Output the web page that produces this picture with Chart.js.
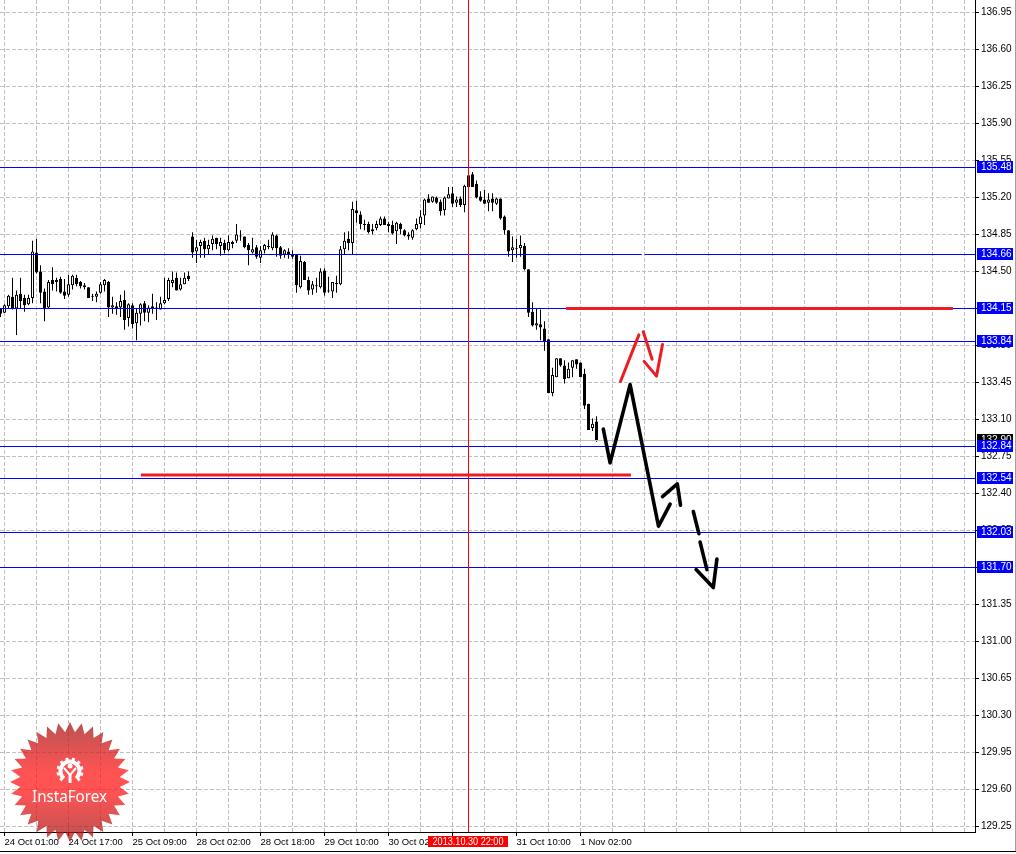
<!DOCTYPE html>
<html>
<head>
<meta charset="utf-8">
<title>EUR/JPY H1</title>
<script src="https://cdn.jsdelivr.net/npm/chart.js@4/dist/chart.umd.min.js"></script>
<style>
    html, body { margin: 0; padding: 0; background: #fff; overflow: hidden; }
    canvas { display: block; }
</style>
</head>
<body>
<canvas id="chart" width="1016" height="854"></canvas>
<script>
    // hourly candles (first bar is cut by the left edge)
    var opens = [134.15,134.11,134.17,134.26,134.15,134.29,134.25,134.19,134.25,134.68,134.50,134.31,134.16,134.42,134.40,134.43,134.31,134.28,134.37,134.44,134.40,134.37,134.35,134.27,134.26,134.30,134.37,134.40,134.16,134.17,134.16,134.23,134.06,134.18,134.01,134.10,134.20,134.11,134.17,134.16,134.14,134.20,134.24,134.39,134.44,134.33,134.38,134.46,134.83,134.69,134.74,134.79,134.71,134.76,134.82,134.74,134.77,134.70,134.76,134.79,134.84,134.83,134.75,134.68,134.73,134.63,134.70,134.74,134.72,134.84,134.73,134.66,134.69,134.66,134.66,134.35,134.59,134.42,134.33,134.36,134.35,134.51,134.32,134.31,134.38,134.38,134.71,134.81,134.77,135.08,135.04,134.95,134.95,134.88,134.91,134.94,135.00,134.95,134.94,134.88,134.95,134.89,134.85,134.82,134.90,134.95,135.03,135.19,135.16,135.20,135.16,135.08,135.19,135.24,135.15,135.19,135.13,135.41,135.42,135.33,135.21,135.18,135.15,135.19,135.14,135.19,135.02,134.89,134.70,134.71,134.72,134.74,134.52,134.12,133.99,134.00,133.96,133.86,133.35,133.50,133.68,133.61,133.49,133.59,133.67,133.64,133.53,133.25,133.02,133.08];
    var highs = [134.15,134.19,134.28,134.44,134.32,134.44,134.28,134.28,134.79,134.81,134.56,134.34,134.42,134.54,134.44,134.45,134.43,134.47,134.47,134.47,134.41,134.39,134.35,134.29,134.31,134.40,134.43,134.41,134.26,134.21,134.28,134.32,134.20,134.20,134.15,134.20,134.22,134.18,134.29,134.21,134.26,134.44,134.44,134.50,134.49,134.44,134.49,134.50,134.87,134.80,134.80,134.82,134.80,134.84,134.82,134.82,134.80,134.84,134.79,134.95,134.89,134.83,134.77,134.82,134.75,134.74,134.76,134.80,134.87,134.85,134.74,134.71,134.72,134.70,134.66,134.65,134.60,134.45,134.41,134.44,134.53,134.53,134.45,134.40,134.46,134.74,134.87,134.88,135.16,135.17,135.07,134.99,134.97,134.95,134.98,135.02,135.02,134.97,134.98,134.97,134.96,134.90,134.87,134.90,135.00,135.08,135.19,135.23,135.21,135.21,135.18,135.21,135.30,135.30,135.21,135.21,135.32,135.42,135.44,135.36,135.26,135.27,135.24,135.24,135.20,135.19,135.03,134.89,134.83,134.81,134.84,134.77,134.52,134.21,134.15,134.14,134.03,133.86,133.59,133.68,133.68,133.66,133.64,133.66,133.67,133.64,133.58,133.25,133.11,133.13];
    var lows = [134.07,134.11,134.15,134.14,133.90,134.15,134.12,134.18,134.20,134.48,134.20,134.03,134.15,134.32,134.31,134.29,134.24,134.26,134.33,134.36,134.34,134.33,134.25,134.22,134.21,134.29,134.31,134.07,134.10,134.09,134.07,133.95,133.98,133.96,133.85,133.99,134.03,134.02,134.10,134.04,134.14,134.19,134.22,134.35,134.32,134.32,134.38,134.41,134.63,134.58,134.63,134.63,134.66,134.70,134.71,134.65,134.67,134.69,134.72,134.77,134.79,134.72,134.56,134.67,134.62,134.58,134.67,134.71,134.70,134.64,134.62,134.63,134.62,134.62,134.30,134.34,134.42,134.28,134.28,134.30,134.34,134.27,134.30,134.25,134.30,134.37,134.66,134.70,134.66,134.96,134.90,134.89,134.86,134.85,134.89,134.93,134.94,134.87,134.85,134.76,134.85,134.83,134.80,134.80,134.89,134.91,134.94,135.15,135.15,135.14,135.03,135.03,135.19,135.11,135.11,135.11,135.06,135.30,135.30,135.19,135.16,135.14,135.07,135.07,135.13,134.99,134.85,134.64,134.59,134.63,134.64,134.51,134.07,133.98,133.95,133.85,133.75,133.35,133.32,133.50,133.60,133.44,133.49,133.50,133.58,133.50,133.20,133.00,132.99,132.89];
    var closes = [134.10,134.18,134.27,134.15,134.28,134.22,134.18,134.25,134.69,134.49,134.30,134.15,134.40,134.38,134.42,134.30,134.27,134.38,134.46,134.38,134.36,134.35,134.25,134.26,134.29,134.38,134.42,134.16,134.18,134.15,134.22,134.04,134.19,134.00,134.11,134.19,134.11,134.16,134.15,134.15,134.20,134.23,134.42,134.42,134.32,134.38,134.44,134.43,134.68,134.73,134.78,134.71,134.75,134.81,134.76,134.78,134.70,134.78,134.78,134.85,134.83,134.73,134.70,134.71,134.64,134.70,134.75,134.73,134.85,134.72,134.65,134.70,134.66,134.64,134.37,134.60,134.42,134.32,134.38,134.37,134.50,134.30,134.31,134.40,134.39,134.71,134.79,134.77,135.09,135.05,134.95,134.94,134.87,134.90,134.95,135.00,134.94,134.93,134.86,134.96,134.90,134.84,134.83,134.89,134.95,135.02,135.18,135.15,135.21,135.15,135.07,135.20,135.23,135.14,135.18,135.13,135.31,135.30,135.30,135.20,135.17,135.14,135.18,135.15,135.19,135.00,134.89,134.69,134.73,134.72,134.75,134.52,134.11,133.99,134.01,133.97,133.84,133.35,133.52,133.68,133.61,133.48,133.58,133.66,133.62,133.50,133.23,133.00,133.06,132.90];

    var priceTicks = [136.95,136.60,136.25,135.90,135.55,135.20,134.85,134.50,134.15,133.80,133.45,133.10,132.75,132.40,132.05,131.70,131.35,131.00,130.65,130.30,129.95,129.60,129.25];
    var gridBars = [1,9,17,25,33,41,49,57,65,73,81,89,97,105,113,121,129,137,145,153,161,169,177,185,193,201,209,217,225,233,241];
    var timeLabels = ['24 Oct 01:00','24 Oct 17:00','25 Oct 09:00','28 Oct 02:00','28 Oct 18:00','29 Oct 10:00','30 Oct 02:00','30 Oct 18:00','31 Oct 10:00','1 Nov 02:00'];

    var levels = [135.48,134.66,134.15,133.84,132.54,132.03,131.70,132.84];
    var bidPrice = 132.90;
    var cursorBar = 117;
    var cursorLabel = '2013.10.30 22:00';

    // hand drawn lines on the picture, x in bars and y in price
    var blackLines = [
        { x: [150.7,152.4,157.4,164.5,167.4], y: [133.01,132.69,133.43,132.09,132.30] },
        { x: [165.5,169.2,170.0], y: [132.37,132.49,132.29] },
        { x: [173.2,174.6], y: [132.23,132.02] },
        { x: [174.9,176.6], y: [131.94,131.68] },
        { x: [173.9,178.2,179.1], y: [131.68,131.51,131.78] }
    ];
    var redLines = [
        { x: [155.0,159.6], y: [133.46,133.90] },
        { x: [160.7,162.9], y: [133.93,133.67] },
        { x: [160.9,164.0,165.5], y: [133.65,133.51,133.81] }
    ];
    var redBars = [
        { x: [141.4,238.1], y: [134.15,134.15] },
        { x: [35.1,157.6], y: [132.575,132.575] }
    ];

    var FONT = '10px "Liberation Sans", Arial, sans-serif';
    var LEVEL_BLUE = '#0000ff';
    var DRAW_RED = '#ed1c24';

    function candleData(a, b) {
        return a.map(function (v, i) { return { x: i, y: [v, b[i]] }; });
    }

    function polyline(line, color, width, cap) {
        return {
            type: 'line',
            data: line.x.map(function (v, i) { return { x: v, y: line.y[i] }; }),
            borderColor: color,
            borderWidth: width,
            pointRadius: 0,
            tension: 0,
            borderCapStyle: cap,
            borderJoinStyle: 'round',
            order: 1
        };
    }

    function noPadding(scale) {
        scale.paddingLeft = scale.paddingRight = scale.paddingTop = scale.paddingBottom = 0;
    }

    var datasets = [
        {
            type: 'bar', label: 'wick', data: candleData(lows, highs),
            backgroundColor: '#000', borderWidth: 0, barThickness: 1, grouped: false, inflateAmount: 0, order: 3
        },
        {
            type: 'bar', label: 'body', data: candleData(opens, closes),
            backgroundColor: opens.map(function (o, i) { return closes[i] >= o ? '#fff' : '#000'; }),
            borderColor: '#000', borderWidth: 1, borderSkipped: false, barThickness: 3, grouped: false, inflateAmount: 0, order: 2
        }
    ];
    redBars.forEach(function (l) { datasets.push(polyline(l, DRAW_RED, 3, 'butt')); });
    redLines.forEach(function (l) { datasets.push(polyline(l, DRAW_RED, 3, 'round')); });
    blackLines.forEach(function (l) { datasets.push(polyline(l, '#000', 3.6, 'round')); });

    // levels go over the candles but under the drawn lines
    var levelPlugin = {
        id: 'levels',
        afterDatasetDraw: function (chart, args) {
            if (args.index !== 1) return;
            var ctx = chart.ctx, area = chart.chartArea;
            var xs = chart.scales.x, ys = chart.scales.y;
            function hline(price, color) {
                var py = Math.round(ys.getPixelForValue(price) - 0.5) + 0.5;
                ctx.strokeStyle = color;
                ctx.beginPath();
                ctx.moveTo(area.left, py);
                ctx.lineTo(area.right, py);
                ctx.stroke();
            }
            ctx.save();
            ctx.lineWidth = 1;
            hline(bidPrice, '#c0c0c0');
            levels.forEach(function (l) { hline(l, LEVEL_BLUE); });
            // small break in the 134.66 line
            ctx.strokeStyle = '#fff';
            var gy = Math.round(ys.getPixelForValue(134.66) - 0.5) + 0.5;
            ctx.beginPath();
            ctx.moveTo(xs.getPixelForValue(160.3), gy);
            ctx.lineTo(xs.getPixelForValue(161), gy);
            ctx.stroke();
            // cursor line
            var cx = xs.getPixelForValue(cursorBar);
            ctx.strokeStyle = '#ff0000';
            ctx.beginPath();
            ctx.moveTo(cx, area.top);
            ctx.lineTo(cx, area.bottom);
            ctx.stroke();
            ctx.restore();
        }
    };

    // price tags on the right axis, time tag under the cursor, window edges
    var tagPlugin = {
        id: 'tags',
        afterDraw: function (chart) {
            var ctx = chart.ctx, ys = chart.scales.y, xs = chart.scales.x;
            function tag(price, bg) {
                var py = Math.round(ys.getPixelForValue(price) - 0.5);
                ctx.fillStyle = bg;
                ctx.fillRect(977, py - 6, 36, 12);
                ctx.fillStyle = '#fff';
                ctx.fillText(price.toFixed(2), 981, py);
            }
            ctx.save();
            ctx.font = FONT;
            ctx.textBaseline = 'middle';
            ctx.textAlign = 'left';
            tag(bidPrice, '#000');
            levels.forEach(function (l) { tag(l, LEVEL_BLUE); });

            var cx = xs.getPixelForValue(cursorBar);
            ctx.fillStyle = '#ff0000';
            ctx.fillRect(cx - 40.5, 836, 80, 11);
            ctx.fillStyle = '#fff';
            ctx.textAlign = 'center';
            ctx.fillText(cursorLabel, cx - 0.5, 842, 71);

            ctx.fillStyle = '#000';
            ctx.fillRect(0, 851, 1016, 1);
            ctx.fillStyle = '#a0a0a0';
            ctx.fillRect(1015, 0, 1, 851);
            ctx.restore();
        }
    };

    // InstaForex watermark, sits over the grid and under the candles
    var logoPlugin = {
        id: 'logo',
        beforeDatasetsDraw: function (chart) {
            var ctx = chart.ctx;
            var cx = 70, cy = 782, spikes = 32;
            var grad = ctx.createLinearGradient(0, cy - 60, 0, cy + 60);
            grad.addColorStop(0, 'rgba(165,25,25,0.75)');
            grad.addColorStop(0.42, 'rgba(255,25,25,0.75)');
            grad.addColorStop(0.58, 'rgba(255,25,25,0.75)');
            grad.addColorStop(1, 'rgba(165,25,25,0.75)');
            ctx.save();
            ctx.fillStyle = grad;
            ctx.beginPath();
            for (var i = 0; i < spikes * 2; i++) {
                var r = i % 2 ? 50 : 60;
                var a = i * Math.PI / spikes - Math.PI / 2;
                ctx.lineTo(cx + r * Math.cos(a), cy + r * Math.sin(a));
            }
            ctx.closePath();
            ctx.fill();

            // gear
            ctx.strokeStyle = '#fff';
            ctx.fillStyle = '#fff';
            ctx.lineWidth = 4;
            ctx.beginPath();
            ctx.arc(70, 771, 9.5, Math.PI * 0.72, Math.PI * 0.28);
            ctx.stroke();
            ctx.lineWidth = 3;
            ctx.setLineDash([3, 3.2]);
            ctx.beginPath();
            ctx.arc(70, 771, 12, Math.PI * 0.72, Math.PI * 0.28);
            ctx.stroke();
            ctx.setLineDash([]);
            ctx.beginPath();
            ctx.arc(70, 766, 2.5, 0, Math.PI * 2);
            ctx.fill();
            ctx.lineWidth = 2;
            ctx.beginPath();
            ctx.moveTo(64, 768);
            ctx.lineTo(70, 775);
            ctx.lineTo(76, 768);
            ctx.stroke();
            ctx.lineWidth = 3;
            ctx.beginPath();
            ctx.moveTo(70, 774);
            ctx.lineTo(70, 783);
            ctx.stroke();

            ctx.font = '16px "Noto Sans", sans-serif';
            ctx.textAlign = 'center';
            ctx.textBaseline = 'alphabetic';
            ctx.fillText('InstaForex', 69.5, 802, 75);
            ctx.restore();
        }
    };

    new Chart(document.getElementById('chart').getContext('2d'), {
        data: { datasets: datasets },
        plugins: [logoPlugin, levelPlugin, tagPlugin],
        options: {
            responsive: false,
            animation: false,
            events: [],
            layout: { padding: 0, autoPadding: false },
            plugins: { legend: { display: false }, tooltip: { enabled: false } },
            scales: {
                x: {
                    type: 'linear',
                    offset: false,
                    min: -0.125,
                    max: 243.625,
                    afterBuildTicks: function (scale) {
                        scale.ticks = gridBars.map(function (b) { return { value: b }; });
                    },
                    afterFit: function (scale) { scale.height = 22; noPadding(scale); },
                    grid: {
                        offset: false,
                        color: '#c0c0c0',
                        tickLength: 4,
                        tickColor: function (c) {
                            return c.index % 2 === 0 && timeLabels[c.index / 2] ? '#000' : 'rgba(0,0,0,0)';
                        }
                    },
                    border: { color: '#000', width: 1, dash: [4, 2] },
                    ticks: {
                        autoSkip: false,
                        maxRotation: 0,
                        minRotation: 0,
                        align: 'start',
                        padding: 1,
                        color: '#000',
                        font: { family: '"Liberation Sans", Arial, sans-serif', size: 9.5 },
                        callback: function (v, i) { return i % 2 === 0 ? (timeLabels[i / 2] || '') : ''; }
                    }
                },
                y: {
                    type: 'linear',
                    position: 'right',
                    min: 129.198,
                    max: 137.068,
                    afterBuildTicks: function (scale) {
                        scale.ticks = priceTicks.map(function (p) { return { value: p }; });
                    },
                    afterFit: function (scale) { scale.width = 41; noPadding(scale); },
                    grid: { color: '#c0c0c0', tickLength: 4, tickColor: '#000' },
                    border: { color: '#000', width: 1, dash: [4, 2] },
                    ticks: {
                        autoSkip: false,
                        padding: 2,
                        color: '#000',
                        font: { family: '"Liberation Sans", Arial, sans-serif', size: 10 },
                        callback: function (v) { return v.toFixed(2); }
                    }
                }
            }
        }
    });
</script>
</body>
</html>
